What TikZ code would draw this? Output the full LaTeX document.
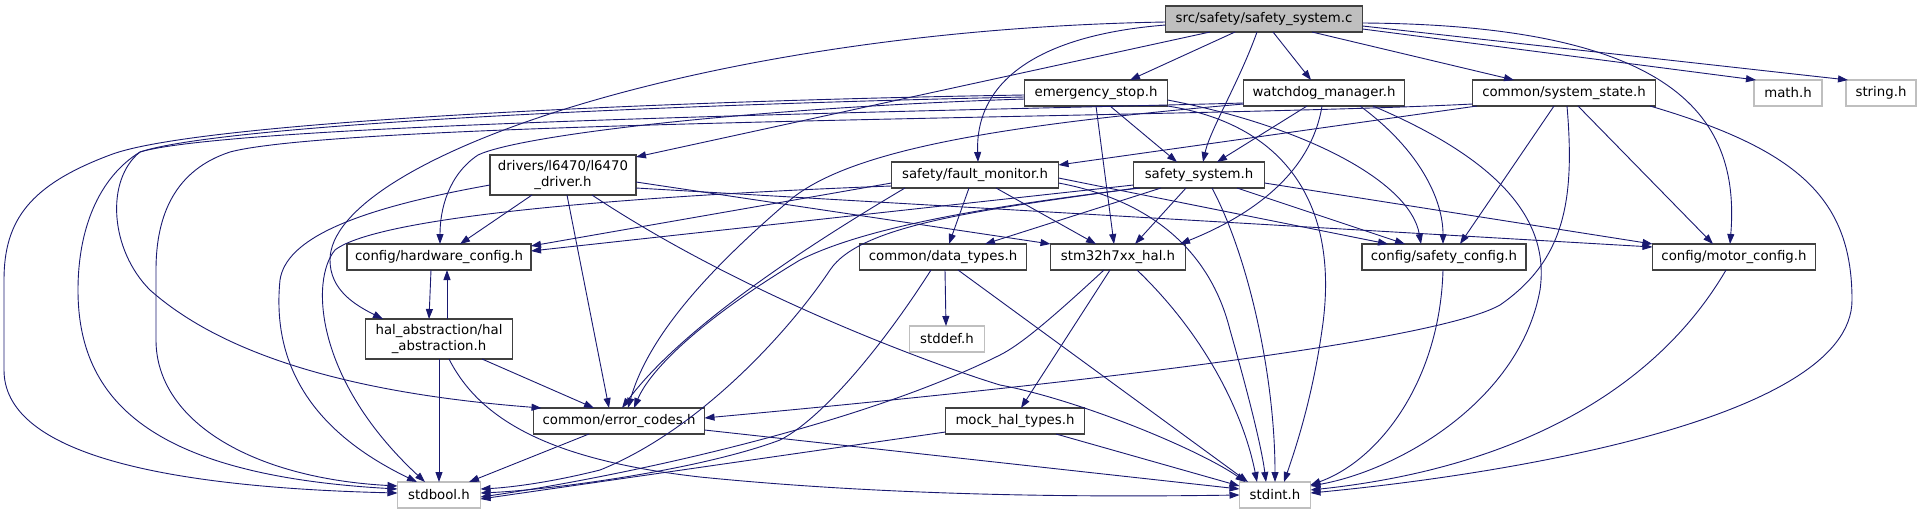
\documentclass[tikz,border=0pt]{standalone}
\usepackage{fontspec}
\setmainfont{DejaVu Sans}
\usetikzlibrary{arrows.meta,calc}
\definecolor{edgecol}{RGB}{25,25,112}
\definecolor{bord}{RGB}{64,64,64}
\definecolor{gfill}{RGB}{191,191,191}
\definecolor{gbord}{RGB}{191,191,191}
\tikzset{
  box/.style={draw=bord, line width=1.1pt, inner sep=0pt, outer sep=0pt, minimum height=26pt, align=center, font=\fontsize{13.3}{15.5}\selectfont},
  extbox/.style={box, draw=gbord},
  rootbox/.style={box, fill=gfill},
  tallbox/.style={box, minimum height=40pt},
  dep/.style={draw=edgecol, line width=0.9pt, -{Triangle[length=10pt,width=7pt]}}
}
\begin{document}
\begin{tikzpicture}[x=1pt,y=-1pt]
\useasboundingbox (0,0) rectangle (1922,515);
% nodes
\node[rootbox, minimum width=197pt] (root) at (1264,19) {src/safety/safety\_system.c};
\node[box, minimum width=143pt] (es) at (1096,93) {emergency\_stop.h};
\node[box, minimum width=161pt] (wd) at (1324,93) {watchdog\_manager.h};
\node[box, minimum width=183pt] (ss) at (1564,93) {common/system\_state.h};
\node[extbox, minimum width=68pt] (math) at (1788,93) {math.h};
\node[extbox, minimum width=70pt] (str) at (1881,93) {string.h};
\node[tallbox, minimum width=146pt] (drv) at (563,175) {drivers/l6470/l6470\\\_driver.h};
\node[box, minimum width=167pt] (fm) at (975,175) {safety/fault\_monitor.h};
\node[box, minimum width=131pt] (sh) at (1199,175) {safety\_system.h};
\node[box, minimum width=184pt] (hw) at (439,257) {config/hardware\_config.h};
\node[box, minimum width=167pt] (dt) at (943,257) {common/data\_types.h};
\node[box, minimum width=135pt] (stm) at (1118,257) {stm32h7xx\_hal.h};
\node[box, minimum width=164pt] (sc) at (1444,257) {config/safety\_config.h};
\node[box, minimum width=163pt] (mc) at (1734,257) {config/motor\_config.h};
\node[tallbox, minimum width=147pt] (ha) at (439,339) {hal\_abstraction/hal\\\_abstraction.h};
\node[extbox, minimum width=75pt] (sd) at (947,339) {stddef.h};
\node[box, minimum width=171pt] (ec) at (619,421) {common/error\_codes.h};
\node[box, minimum width=139pt] (mk) at (1015,421) {mock\_hal\_types.h};
\node[extbox, minimum width=83pt] (sb) at (439,495) {stdbool.h};
\node[extbox, minimum width=71pt] (si) at (1275,495) {stdint.h};

% root edges
\draw[dep] ([xshift=-29pt]root.south) -- ([xshift=34pt]es.north);
\draw[dep] ([xshift=-7pt]root.south) .. controls (1240,80) and (1210,130) .. ([xshift=4pt]sh.north);
\draw[dep] ([xshift=9pt]root.south) -- ([xshift=-13pt]wd.north);
\draw[dep] ([xshift=48pt]root.south) -- ([xshift=-50pt]ss.north);
\draw[dep] ([yshift=-10pt]root.east) -- ([xshift=2pt]math.north west);
\draw[dep] ([yshift=-7pt]root.east) -- ([xshift=2pt]str.north west);
\draw[dep] ([yshift=-4pt]root.east) .. controls (1680,25) and (1740,120) .. ([xshift=-4pt]mc.north);
\draw[dep] ([xshift=-54pt]root.south) -- ([yshift=-2pt]drv.north east);
\draw[dep] ([yshift=-6pt]root.west) .. controls (1040,35) and (975,80) .. ([xshift=3pt]fm.north);
\draw[dep] ([yshift=-3pt]root.west) .. controls (700,30) and (330,160) .. (330,260) .. controls (330,290) and (355,305) .. ([xshift=-56pt]ha.north);

% emergency_stop edges
\draw[dep] ([xshift=14pt]es.south) -- ([xshift=-22pt]sh.north);
\draw[dep] (es.south) -- ([xshift=-4pt]stm.north);
\draw[dep] ([yshift=-7pt]es.east) .. controls (1300,125) and (1410,180) .. ([xshift=-23pt]sc.north);
\draw[dep] (es.south east) .. controls (1290,125) and (1340,210) .. (1322,330) .. controls (1312,400) and (1295,450) .. ([xshift=9pt]si.north);
\draw[dep] ([yshift=-2pt]es.west) .. controls (700,100) and (200,120) .. (110,155) .. controls (30,185) and (4,220) .. (4,280) -- (4,370) .. controls (4,450) and (150,487) .. ([yshift=2pt]sb.west);
\draw[dep] ([yshift=-4pt]es.west) .. controls (650,105) and (220,125) .. (140,152) .. controls (105,180) and (110,250) .. (150,290) .. controls (240,370) and (400,397) .. ([xshift=8pt]ec.north west);
\draw[dep] ([yshift=-6pt]es.west) .. controls (750,108) and (520,135) .. (478,155) .. controls (448,175) and (440,210) .. ([xshift=1pt]hw.north);

% watchdog edges
\draw[dep] ([xshift=-17pt]wd.south) -- ([xshift=18pt]sh.north);
\draw[dep] ([xshift=-2pt]wd.south) .. controls (1310,180) and (1240,220) .. ([xshift=62pt]stm.north);
\draw[dep] ([xshift=36pt]wd.south) .. controls (1420,150) and (1443,200) .. ([xshift=-1pt]sc.north);
\draw[dep] ([xshift=49pt]wd.south) .. controls (1500,160) and (1550,220) .. (1540,290) .. controls (1520,400) and (1400,470) .. ([yshift=9pt]si.east);
\draw[dep] ([yshift=-10pt]wd.west) .. controls (1000,110) and (240,122) .. (140,152) .. controls (98,178) and (78,230) .. (78,290) .. controls (78,400) and (150,475) .. ([yshift=6pt]sb.west);
\draw[dep] ([yshift=-11pt]wd.west) .. controls (1000,125) and (850,150) .. (790,200) .. controls (720,260) and (650,330) .. ([xshift=9pt]ec.north);

% system_state edges
\draw[dep] ([xshift=-87pt]ss.south) -- ([yshift=-3pt]fm.north east);
\draw[dep] ([xshift=-10pt]ss.south) -- ([xshift=16pt]sc.north);
\draw[dep] ([xshift=14pt]ss.south) -- ([xshift=-21pt]mc.north);
\draw[dep] ([xshift=86pt]ss.south) .. controls (1800,150) and (1852,200) .. (1852,300) .. controls (1852,420) and (1500,475) .. ([yshift=2pt]si.east);
\draw[dep] ([xshift=3pt]ss.south) .. controls (1575,200) and (1565,260) .. (1500,305) .. controls (1420,350) and (900,400) .. ([yshift=3pt]ec.east);
\draw[dep] ([yshift=-11pt]ss.west) .. controls (1200,118) and (350,120) .. (230,152) .. controls (175,170) and (156,215) .. (156,270) -- (156,340) .. controls (156,420) and (250,478) .. ([yshift=9pt]sb.west);

% driver edges
\draw[dep] ([xshift=-31pt]drv.south) -- ([xshift=21pt]hw.north);
\draw[dep] ([xshift=4pt]drv.south) -- ([xshift=-10pt]ec.north);
\draw[dep] ([xshift=29pt]drv.south) .. controls (750,300) and (950,370) .. (1000,385) .. controls (1080,400) and (1200,450) .. ([xshift=6pt]si.north west);
\draw[dep] ([yshift=-7pt]drv.east) -- (stm.north west);
\draw[dep] ([yshift=-13pt]drv.east) -- ([yshift=10pt]mc.west);
\draw[dep] ([yshift=-10pt]drv.west) .. controls (350,210) and (286,240) .. (280,280) .. controls (270,380) and (330,440) .. ([xshift=-22pt]sb.north);

% fault_monitor edges
\draw[dep] ([xshift=-6pt]fm.south) -- ([xshift=6pt]dt.north);
\draw[dep] ([xshift=21pt]fm.south) -- ([xshift=-22pt]stm.north);
\draw[dep] ([yshift=-8pt]fm.west) -- ([yshift=11pt]hw.east);
\draw[dep] ([xshift=-70pt]fm.south) .. controls (800,250) and (680,330) .. ([xshift=3pt]ec.north);
\draw[dep] ([yshift=-11pt]fm.west) .. controls (650,195) and (380,215) .. (335,250) .. controls (310,280) and (315,380) .. ([xshift=-14pt]sb.north);
\draw[dep] ([yshift=-8pt]fm.east) .. controls (1150,200) and (1210,250) .. (1230,330) .. controls (1250,400) and (1262,450) .. ([xshift=-9pt]si.north);
\draw[dep] ([yshift=-3pt]fm.east) -- ([xshift=-56pt]sc.north);

% safety_system.h edges
\draw[dep] ([xshift=-38pt]sh.south) -- ([xshift=42pt]dt.north);
\draw[dep] ([xshift=-13pt]sh.south) -- ([xshift=17pt]stm.north);
\draw[dep] ([xshift=13pt]sh.south) .. controls (1250,260) and (1275,380) .. (si.north);
\draw[dep] ([xshift=38pt]sh.south) -- ([xshift=-39pt]sc.north);
\draw[dep] ([yshift=-8pt]sh.east) -- (mc.north west);
\draw[dep] ([yshift=-10pt]sh.west) -- ([yshift=6pt]hw.east);
\draw[dep] ([xshift=-59pt]sh.south) .. controls (1000,205) and (870,225) .. (800,260) .. controls (700,320) and (650,370) .. ([xshift=15pt]ec.north);
\draw[dep] ([xshift=3pt]sh.south west) .. controls (980,210) and (860,225) .. (830,270) .. controls (790,330) and (700,430) .. (600,470) .. controls (540,485) and (500,488) .. ([yshift=6pt]sb.east);

% hardware / hal
\draw[dep] ([xshift=-8pt]hw.south) -- ([xshift=-10pt]ha.north);
\draw[dep] ([xshift=8pt]ha.north) -- ([xshift=8pt]hw.south);
\draw[dep] ([xshift=43pt]ha.south) -- ([xshift=-25pt]ec.north);
\draw[dep] (ha.south) -- (sb.north);
\draw[dep] ([xshift=10pt]ha.south) .. controls (480,420) and (550,460) .. (700,477) .. controls (900,497) and (1100,497) .. (si.west);

% data_types
\draw[dep] ([xshift=2pt]dt.south) -- ([xshift=-1pt]sd.north);
\draw[dep] ([xshift=15pt]dt.south) -- ([xshift=-27pt]si.north);
\draw[dep] ([xshift=-12pt]dt.south) .. controls (880,350) and (820,420) .. (780,440) .. controls (700,470) and (550,490) .. ([yshift=2pt]sb.east);

% stm32
\draw[dep] ([xshift=-8pt]stm.south) -- ([xshift=6pt]mk.north);
\draw[dep] ([xshift=19pt]stm.south) .. controls (1210,340) and (1245,420) .. ([xshift=-18pt]si.north);
\draw[dep] ([xshift=-14pt]stm.south) .. controls (1050,320) and (1020,345) .. (1000,355) .. controls (850,430) and (600,480) .. ([yshift=-2pt]sb.east);

% configs
\draw[dep] ([xshift=-1pt]sc.south) .. controls (1440,380) and (1380,460) .. ([yshift=10pt]si.east);
\draw[dep] ([xshift=-8pt]mc.south) .. controls (1650,400) and (1500,470) .. ([yshift=5pt]si.east);

% error codes / mock
\draw[dep] ([xshift=-30pt]ec.south) -- ([xshift=30pt]sb.north);
\draw[dep] ([yshift=-9pt]ec.east) -- ([yshift=6pt]si.west);
\draw[dep] ([yshift=-11pt]mk.west) -- ([yshift=-4pt]sb.east);
\draw[dep] ([xshift=41pt]mk.south) -- ([yshift=9pt]si.west);
\end{tikzpicture}
\end{document}
